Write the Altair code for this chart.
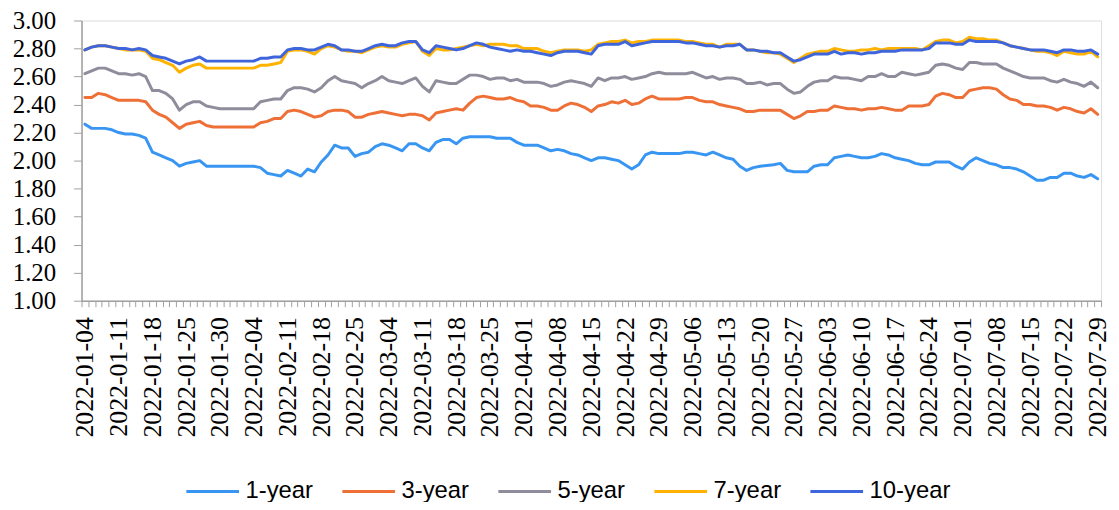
import altair as alt
import pandas as pd

weeks = [
    ["01-04", "01-05", "01-06", "01-07", "01-10"],
    ["01-11", "01-12", "01-13", "01-14", "01-17"],
    ["01-18", "01-19", "01-20", "01-21", "01-24"],
    ["01-25", "01-26", "01-27", "01-28", "01-29"],
    ["01-30", "01-31", "02-01", "02-02", "02-03"],
    ["02-04", "02-07", "02-08", "02-09", "02-10"],
    ["02-11", "02-14", "02-15", "02-16", "02-17"],
    ["02-18", "02-21", "02-22", "02-23", "02-24"],
    ["02-25", "02-28", "03-01", "03-02", "03-03"],
    ["03-04", "03-07", "03-08", "03-09", "03-10"],
    ["03-11", "03-14", "03-15", "03-16", "03-17"],
    ["03-18", "03-21", "03-22", "03-23", "03-24"],
    ["03-25", "03-28", "03-29", "03-30", "03-31"],
    ["04-01", "04-02", "04-05", "04-06", "04-07"],
    ["04-08", "04-11", "04-12", "04-13", "04-14"],
    ["04-15", "04-18", "04-19", "04-20", "04-21"],
    ["04-22", "04-25", "04-26", "04-27", "04-28"],
    ["04-29", "05-02", "05-03", "05-04", "05-05"],
    ["05-06", "05-09", "05-10", "05-11", "05-12"],
    ["05-13", "05-16", "05-17", "05-18", "05-19"],
    ["05-20", "05-23", "05-24", "05-25", "05-26"],
    ["05-27", "05-30", "05-31", "06-01", "06-02"],
    ["06-03", "06-06", "06-07", "06-08", "06-09"],
    ["06-10", "06-13", "06-14", "06-15", "06-16"],
    ["06-17", "06-20", "06-21", "06-22", "06-23"],
    ["06-24", "06-27", "06-28", "06-29", "06-30"],
    ["07-01", "07-04", "07-05", "07-06", "07-07"],
    ["07-08", "07-11", "07-12", "07-13", "07-14"],
    ["07-15", "07-18", "07-19", "07-20", "07-21"],
    ["07-22", "07-25", "07-26", "07-27", "07-28"],
    ["07-29"],
]
dates = ["2022-" + d for w in weeks for d in w]
label_dates = ["2022-" + w[0] for w in weeks]

y1 = [2.26, 2.23, 2.23, 2.23, 2.22, 2.20, 2.19, 2.19, 2.18, 2.16,
      2.06, 2.04, 2.02, 2.00, 1.96, 1.98, 1.99, 2.00, 1.96, 1.96,
      1.96, 1.96, 1.96, 1.96, 1.96, 1.96, 1.95, 1.91, 1.90, 1.89,
      1.93, 1.91, 1.89, 1.94, 1.92, 1.99, 2.04, 2.11, 2.09, 2.09,
      2.03, 2.05, 2.06, 2.10, 2.12, 2.11, 2.09, 2.07, 2.12, 2.12,
      2.09, 2.07, 2.13, 2.15, 2.15, 2.12, 2.16, 2.17, 2.17, 2.17,
      2.17, 2.16, 2.16, 2.16, 2.13, 2.11, 2.11, 2.11, 2.09, 2.07,
      2.08, 2.07, 2.05, 2.04, 2.02, 2.00, 2.02, 2.02, 2.01, 2.00,
      1.97, 1.94, 1.97, 2.04, 2.06, 2.05, 2.05, 2.05, 2.05, 2.06,
      2.06, 2.05, 2.04, 2.06, 2.04, 2.02, 2.01, 1.96, 1.93, 1.95,
      1.96, 1.965, 1.97, 1.98, 1.93, 1.92, 1.92, 1.92, 1.96, 1.97,
      1.97, 2.02, 2.03, 2.04, 2.03, 2.02, 2.02, 2.03, 2.05, 2.04,
      2.02, 2.01, 2.00, 1.98, 1.97, 1.97, 1.99, 1.99, 1.99, 1.96,
      1.94, 1.99, 2.02, 2.00, 1.98, 1.97, 1.95, 1.95, 1.94, 1.92,
      1.89, 1.86, 1.86, 1.88, 1.88, 1.91, 1.91, 1.89, 1.88, 1.90, 1.87]

y3 = [2.45, 2.45, 2.48, 2.47, 2.45, 2.43, 2.43, 2.43, 2.43, 2.42,
      2.36, 2.33, 2.31, 2.27, 2.23, 2.26, 2.27, 2.28, 2.25, 2.24,
      2.24, 2.24, 2.24, 2.24, 2.24, 2.24, 2.27, 2.28, 2.30, 2.30,
      2.35, 2.36, 2.35, 2.33, 2.31, 2.32, 2.35, 2.36, 2.36, 2.35,
      2.31, 2.31, 2.33, 2.34, 2.35, 2.34, 2.33, 2.32, 2.33, 2.33,
      2.32, 2.29, 2.34, 2.35, 2.36, 2.37, 2.36, 2.41, 2.45, 2.46,
      2.45, 2.44, 2.44, 2.45, 2.43, 2.42, 2.39, 2.39, 2.38, 2.36,
      2.36, 2.39, 2.41, 2.40, 2.38, 2.35, 2.39, 2.40, 2.42, 2.41,
      2.43, 2.40, 2.41, 2.44, 2.46, 2.44, 2.44, 2.44, 2.44, 2.45,
      2.45, 2.43, 2.42, 2.42, 2.40, 2.39, 2.38, 2.37, 2.35, 2.35,
      2.36, 2.36, 2.36, 2.36, 2.33, 2.30, 2.32, 2.35, 2.35, 2.36,
      2.36, 2.39, 2.38, 2.37, 2.37, 2.36, 2.37, 2.37, 2.38, 2.37,
      2.36, 2.36, 2.39, 2.39, 2.39, 2.40, 2.46, 2.48, 2.47, 2.45,
      2.45, 2.50, 2.51, 2.52, 2.52, 2.51, 2.47, 2.44, 2.43, 2.40,
      2.40, 2.39, 2.39, 2.38, 2.36, 2.38, 2.37, 2.35, 2.34, 2.37, 2.33]

y5 = [2.62, 2.64, 2.66, 2.66, 2.64, 2.62, 2.62, 2.61, 2.62, 2.60,
      2.50, 2.50, 2.48, 2.44, 2.36, 2.40, 2.42, 2.42, 2.39, 2.38,
      2.37, 2.37, 2.37, 2.37, 2.37, 2.37, 2.42, 2.43, 2.44, 2.44,
      2.50, 2.52, 2.52, 2.51, 2.49, 2.52, 2.57, 2.60, 2.57, 2.56,
      2.55, 2.52, 2.55, 2.57, 2.60, 2.57, 2.56, 2.55, 2.57, 2.59,
      2.53, 2.49, 2.57, 2.56, 2.55, 2.55, 2.58, 2.61, 2.61, 2.60,
      2.58, 2.59, 2.59, 2.57, 2.58, 2.56, 2.56, 2.56, 2.55, 2.53,
      2.54, 2.56, 2.57, 2.56, 2.55, 2.53, 2.59, 2.57, 2.59, 2.59,
      2.60, 2.58, 2.59, 2.60, 2.62, 2.63, 2.62, 2.62, 2.62, 2.62,
      2.63, 2.61, 2.59, 2.60, 2.58, 2.59, 2.59, 2.58, 2.55, 2.55,
      2.56, 2.54, 2.55, 2.55, 2.51, 2.48, 2.49, 2.53, 2.56, 2.57,
      2.57, 2.60, 2.59, 2.59, 2.58, 2.57, 2.60, 2.60, 2.62, 2.60,
      2.60, 2.63, 2.62, 2.61, 2.62, 2.63, 2.68, 2.69, 2.68, 2.66,
      2.65, 2.70, 2.70, 2.69, 2.69, 2.69, 2.66, 2.64, 2.62, 2.60,
      2.59, 2.59, 2.59, 2.57, 2.56, 2.58, 2.56, 2.55, 2.53, 2.56, 2.52]

y7 = [2.79, 2.81, 2.82, 2.82, 2.81, 2.80, 2.79, 2.79, 2.79, 2.78,
      2.73, 2.72, 2.70, 2.68, 2.63, 2.66, 2.68, 2.69, 2.66, 2.66,
      2.66, 2.66, 2.66, 2.66, 2.66, 2.66, 2.68, 2.68, 2.69, 2.70,
      2.78, 2.79, 2.79, 2.78, 2.76, 2.80, 2.82, 2.81, 2.79, 2.78,
      2.78, 2.77, 2.79, 2.81, 2.82, 2.81, 2.81, 2.83, 2.84, 2.85,
      2.78, 2.75, 2.80, 2.79, 2.79, 2.80, 2.81, 2.82, 2.83, 2.82,
      2.83, 2.83, 2.83, 2.82, 2.82, 2.80, 2.80, 2.80, 2.78, 2.77,
      2.78, 2.79, 2.79, 2.79, 2.78, 2.79, 2.83, 2.84, 2.85, 2.85,
      2.86, 2.84, 2.85, 2.85, 2.86, 2.86, 2.86, 2.86, 2.86, 2.85,
      2.85, 2.84, 2.83, 2.83, 2.81, 2.83, 2.83, 2.83, 2.79, 2.79,
      2.78, 2.77, 2.77, 2.76, 2.73, 2.70, 2.73, 2.76, 2.77, 2.78,
      2.78, 2.80, 2.79, 2.78, 2.78, 2.79, 2.79, 2.80, 2.79, 2.80,
      2.80, 2.80, 2.80, 2.80, 2.79, 2.82, 2.85, 2.86, 2.86, 2.84,
      2.85, 2.88, 2.87, 2.87, 2.86, 2.86, 2.84, 2.82, 2.81, 2.80,
      2.79, 2.78, 2.78, 2.77, 2.75, 2.78, 2.77, 2.76, 2.76, 2.78, 2.74]

y10 = [2.79, 2.81, 2.82, 2.82, 2.81, 2.80, 2.80, 2.79, 2.80, 2.79,
       2.75, 2.74, 2.73, 2.71, 2.69, 2.71, 2.72, 2.74, 2.71, 2.71,
       2.71, 2.71, 2.71, 2.71, 2.71, 2.71, 2.73, 2.73, 2.74, 2.74,
       2.79, 2.80, 2.80, 2.79, 2.79, 2.81, 2.83, 2.82, 2.79, 2.79,
       2.78, 2.78, 2.80, 2.82, 2.83, 2.82, 2.82, 2.84, 2.85, 2.85,
       2.79, 2.77, 2.82, 2.81, 2.80, 2.79, 2.80, 2.82, 2.84, 2.83,
       2.81, 2.80, 2.79, 2.78, 2.79, 2.78, 2.78, 2.77, 2.76, 2.75,
       2.77, 2.78, 2.78, 2.78, 2.77, 2.76, 2.82, 2.83, 2.83, 2.83,
       2.85, 2.82, 2.83, 2.84, 2.85, 2.85, 2.85, 2.85, 2.85, 2.84,
       2.84, 2.83, 2.82, 2.82, 2.81, 2.82, 2.82, 2.83, 2.79, 2.79,
       2.78, 2.78, 2.77, 2.77, 2.74, 2.71, 2.72, 2.74, 2.76, 2.76,
       2.76, 2.78, 2.76, 2.77, 2.77, 2.76, 2.77, 2.77, 2.78, 2.78,
       2.78, 2.79, 2.79, 2.79, 2.79, 2.80, 2.84, 2.84, 2.84, 2.83,
       2.83, 2.86, 2.85, 2.85, 2.85, 2.85, 2.84, 2.82, 2.81, 2.80,
       2.79, 2.79, 2.79, 2.78, 2.77, 2.79, 2.79, 2.78, 2.78, 2.79, 2.76]

series_names = ["1-year", "3-year", "5-year", "7-year", "10-year"]
series_values = [y1, y3, y5, y7, y10]
colors = ["#3896F2", "#EE7036", "#8F8C9B", "#FFB300", "#3F65DC"]
y_ticks = [1.0, 1.2, 1.4, 1.6, 1.8, 2.0, 2.2, 2.4, 2.6, 2.8, 3.0]

rows = []
for name, vals in zip(series_names, series_values):
    for d, v in zip(dates, vals):
        rows.append({"date": d, "value": v, "series": name})
df = pd.DataFrame(rows)

label_list = ",".join("'" + d + "'" for d in label_dates)
label_expr = f"indexof([{label_list}], datum.value) >= 0 ? datum.value : ''"

x_enc = alt.X(
    "date:O",
    sort=dates,
    bandPosition=0.5,
    scale=alt.Scale(type="band", paddingInner=0, paddingOuter=0),
    axis=alt.Axis(
        title=None,
        labelExpr=label_expr,
        labelAngle=-90,
        labelOverlap=False,
        labelBound=False,
        labelFont="Liberation Serif",
        labelFontSize=26,
        labelColor="#000000",
        labelPadding=10,
        tickBand="extent",
        tickSize=6,
        tickColor="#A0A0A0",
        domainColor="#A0A0A0",
        domainWidth=1.5,
        grid=False,
    ),
)
y_enc = alt.Y(
    "value:Q",
    scale=alt.Scale(domain=[1.0, 3.0], nice=False, zero=False),
    axis=alt.Axis(
        title=None,
        values=y_ticks,
        format=".2f",
        labelFont="Liberation Serif",
        labelFontSize=25,
        labelColor="#000000",
        labelPadding=18,
        tickSize=8,
        tickColor="#A0A0A0",
        domainColor="#A0A0A0",
        domainWidth=1.5,
        grid=False,
    ),
)
color_enc = alt.Color(
    "series:N",
    scale=alt.Scale(domain=series_names, range=colors),
    legend=alt.Legend(
        title=None,
        orient="none",
        legendX=104,
        legendY=446,
        direction="horizontal",
        columns=5,
        gridAlign="all",
        symbolType="stroke",
        symbolSize=2809,
        symbolStrokeWidth=3,
        labelFont="Liberation Sans",
        labelFontSize=24,
        labelColor="#000000",
        labelOffset=5,
        columnPadding=9,
    ),
)

layers = []
for name in series_names:
    layers.append(
        alt.Chart(df)
        .transform_filter(alt.datum.series == name)
        .mark_line(strokeWidth=3, strokeJoin="round", strokeCap="round")
        .encode(x=x_enc, y=y_enc, color=color_enc)
    )

chart = (
    alt.layer(*layers)
    .properties(
        width=1026,
        height=282,
        padding={"left": 74, "top": 11, "right": 10, "bottom": 201},
        autosize=alt.AutoSizeParams(type="none"),
    )
    .configure_view(strokeWidth=0)
    .configure(background="white")
)

chart.save("out.html", embed_options={"renderer": "svg", "actions": False})
